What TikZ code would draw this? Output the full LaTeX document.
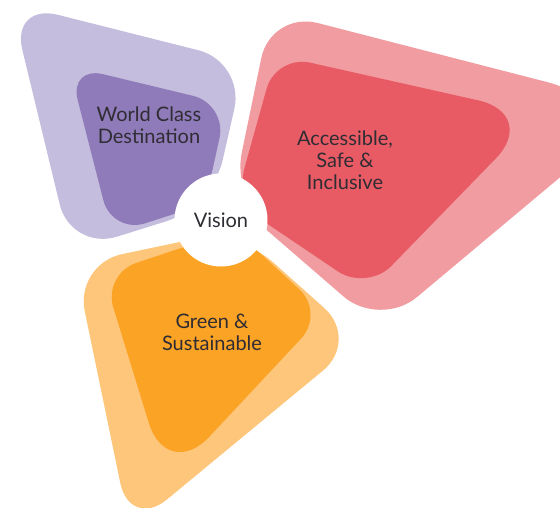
\documentclass[tikz,border=0pt]{standalone}
\usepackage{fontspec}
\setmainfont{Lato}
\usetikzlibrary{positioning}
\definecolor{lilacout}{HTML}{C5BDDD}
\definecolor{lilacin}{HTML}{8F7BB9}
\definecolor{roseout}{HTML}{F09CA1}
\definecolor{rosein}{HTML}{E85B65}
\definecolor{amberout}{HTML}{FEC67A}
\definecolor{amberin}{HTML}{FBA324}
\definecolor{inktext}{HTML}{2F2D33}
\tikzset{
  petal/.style={rounded corners=48pt},
  core/.style={rounded corners=35pt},
  lbl/.style={align=center, font=\fontsize{20}{22}\selectfont, text=inktext},
  hub/.style={circle, fill=white, minimum size=93pt, inner sep=0pt,
              font=\fontsize{20}{22}\selectfont, text=inktext}
}

\begin{document}
\begin{tikzpicture}[x=1pt,y=-1pt]
  \useasboundingbox (0,0) rectangle (560,507);
  \clip (0,0) rectangle (560,507);
  % world class petal
  \fill[lilacout, petal] (11,3) -- (245,62) -- (212,207) -- (71,251) -- cycle;
  \fill[lilacin, core] (69,66) -- (227,104) -- (205,204) -- (112,234) -- cycle;
  % accessible petal
  \fill[roseout, petal] (232,200) -- (271,11) [rounded corners=100pt] -- (644,107)
    [rounded corners=48pt] -- (380,328) -- cycle;
  \fill[rosein, core] (235,202) -- (276,55) [rounded corners=62pt] -- (539,114)
    [rounded corners=35pt] -- (367,291) -- cycle;
  % green petal
  \fill[amberout, petal] (75,264) -- (237,230) -- (360,340) -- (130,530) -- cycle;
  \fill[amberin, core] (235,230) -- (325,313) [rounded corners=62pt] -- (167,482)
    [rounded corners=35pt] -- (103,274) -- cycle;
  % labels
  \node[hub] (vision) at (221,220) {Vision};
  \node[lbl] (world) at (149,125) {World Class\\Destination};
  \node[lbl] (access) at (345,160) {Accessible,\\Safe \&\\Inclusive};
  \node[lbl] (green) at (212,332) {Green \&\\Sustainable};
\end{tikzpicture}
\end{document}
